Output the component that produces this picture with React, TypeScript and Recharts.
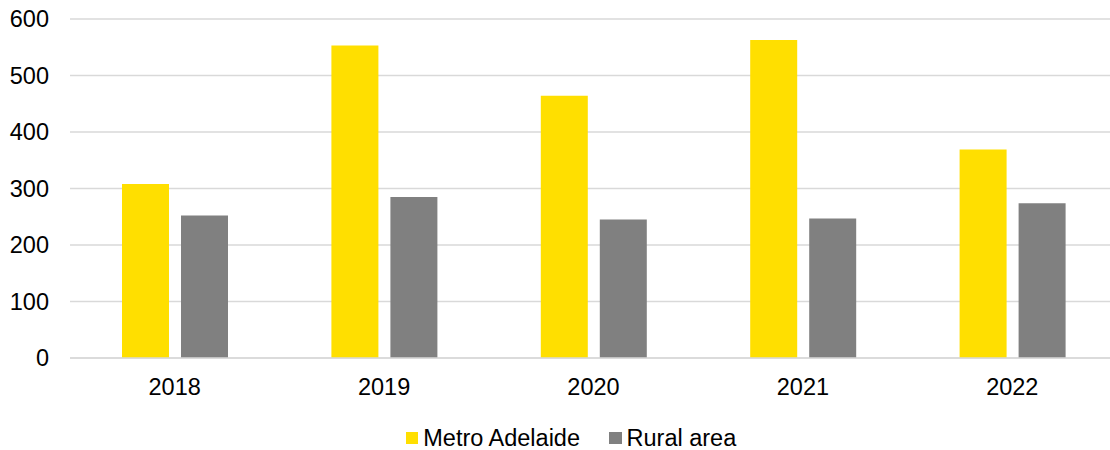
import React from 'react';
import { BarChart, Bar, XAxis, YAxis, CartesianGrid, Legend } from 'recharts';

const years = ['2018', '2019', '2020', '2021', '2022'];
const metroAdelaide = [308, 553, 464, 563, 369];
const ruralArea = [252, 285, 245, 247, 274];
const yTicks = [0, 100, 200, 300, 400, 500, 600];

const FONT = '"Liberation Sans", Arial, sans-serif';
const YELLOW = '#FFDF00';
const GREY = '#808080';

const data = years.map((y, i) => ({
  year: y,
  metro: metroAdelaide[i],
  rural: ruralArea[i],
}));

const LegendContent = () => (
  <div style={{
    display: 'flex', justifyContent: 'center', alignItems: 'center',
    height: 32, paddingTop: 8, paddingLeft: 32, boxSizing: 'border-box',
    fontFamily: FONT, fontSize: 23.5, color: '#000',
  }}>
    <span style={{ width: 12.5, height: 12.5, background: YELLOW, marginRight: 5 }} />
    <span style={{ marginRight: 29 }}>Metro Adelaide</span>
    <span style={{ width: 12.5, height: 12.5, background: GREY, marginRight: 5 }} />
    <span>Rural area</span>
  </div>
);

export default function App() {
  return (
    <div style={{ position: 'absolute', left: 0, top: 0, width: 1110, height: 450, overflow: 'hidden', background: '#fff' }}>
      <BarChart width={1117} height={450} data={data}
        margin={{ top: 19, right: 0, left: 0, bottom: 0 }}
        barSize={47} barGap={12}>
        <CartesianGrid vertical={false} stroke="#D9D9D9" strokeWidth={1.3} />
        <XAxis dataKey="year" height={60} tickLine={false} tickSize={0} tickMargin={20}
          axisLine={{ stroke: '#D9D9D9', strokeWidth: 1.3 }}
          tick={{ fill: '#000', fontSize: 23.5, fontFamily: FONT }} />
        <YAxis width={70} domain={[0, 600]} ticks={yTicks} interval={0}
          axisLine={false} tickLine={false} tickSize={0} tickMargin={21}
          tick={{ fill: '#000', fontSize: 23.5, fontFamily: FONT }} />
        <Legend verticalAlign="bottom" content={<LegendContent />}
          wrapperStyle={{ left: 0, width: 1110, bottom: 0 }} />
        <Bar dataKey="metro" name="Metro Adelaide" fill={YELLOW} isAnimationActive={false} />
        <Bar dataKey="rural" name="Rural area" fill={GREY} isAnimationActive={false} />
      </BarChart>
    </div>
  );
}
